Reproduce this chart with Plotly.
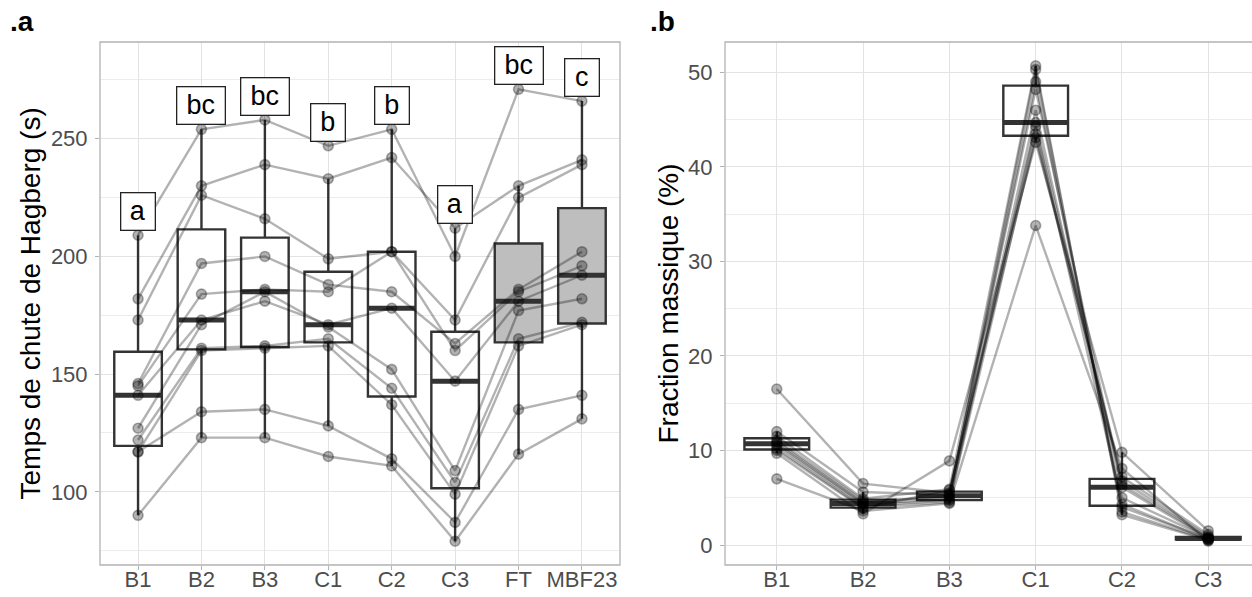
import numpy as np
import plotly.graph_objects as go

# ---------------- data : panel a (Hagberg falling number, s), 11 samples each ----------------
cats_a = ["B1", "B2", "B3", "C1", "C2", "C3", "FT", "MBF23"]
letters_a = ["a", "bc", "bc", "b", "b", "a", "bc", "c"]
hag_B1 = [209, 182, 173, 146, 145, 141, 127, 122, 117, 117, 90]
hag_B2 = [254, 230, 226, 197, 184, 173, 171, 161, 160, 134, 123]
hag_B3 = [258, 239, 216, 200, 186, 181, 185, 162, 161, 135, 123]
hag_C1 = [247, 233, 199, 188, 185, 171, 170, 165, 162, 128, 115]
hag_C2 = [254, 242, 202, 185, 202, 178, 152, 144, 137, 114, 111]
hag_C3 = [200, 212, 173, 163, 160, 147, 109, 104, 99, 87, 79]
hag_FT = [271, 230, 225, 186, 185, 181, 177, 165, 162, 135, 116]
hag_MBF23 = [266, 241, 239, 202, 196, 192, 182, 172, 171, 141, 131]
filled_a = ["FT", "MBF23"]

# ---------------- data : panel b (mass fraction, %) ----------------
cats_b = ["B1", "B2", "B3", "C1", "C2", "C3"]
frac_B1 = [16.5, 12.0, 11.5, 11.1, 10.9, 10.7, 10.5, 10.2, 10.0, 9.7, 7.0]
frac_B2 = [6.5, 5.6, 4.9, 4.7, 4.5, 4.4, 4.2, 4.0, 3.9, 3.3, 3.6]
frac_B3 = [5.5, 5.3, 5.9, 5.0, 5.2, 4.8, 4.7, 4.5, 5.8, 8.9, 4.4]
frac_C1 = [44.3, 48.2, 50.7, 50.3, 49.0, 46.0, 44.7, 43.5, 43.1, 42.6, 33.8]
frac_C2 = [4.3, 6.1, 3.2, 3.5, 4.0, 5.0, 6.4, 6.8, 7.2, 9.8, 8.1]
frac_C3 = [0.6, 0.7, 0.5, 0.55, 0.65, 0.75, 0.8, 0.9, 1.1, 1.5, 0.4]

cols_a = [hag_B1, hag_B2, hag_B3, hag_C1, hag_C2, hag_C3, hag_FT, hag_MBF23]
cols_b = [frac_B1, frac_B2, frac_B3, frac_C1, frac_C2, frac_C3]

# ---------------- style ----------------
W, H = 1252, 597
FONT = "Liberation Sans, Arial, sans-serif"
BOX_LINE = "#333333"
GRID = "#e3e3e3"
BORDER = "#b3b3b3"
TICKCOL = "#4d4d4d"
PT_FILL = "rgba(0,0,0,0.30)"
LINE_COL = "rgba(0,0,0,0.30)"
BOXW = 0.75
TICKSIZE = 22
TITLESIZE = 28

pa_l, pa_r = 100 / W, 620 / W
pb_l, pb_r = 725 / W, 1.0
p_top, p_bot = 1 - 42 / H, 1 - 565 / H

fig = go.Figure()


def add_panel(cols, cats, xa, ya, fills):
    # boxes
    for i, col in enumerate(cols):
        fig.add_trace(go.Box(
            x=[i] * len(col), y=col, xaxis=xa, yaxis=ya,
            width=BOXW, quartilemethod="inclusive", boxpoints="outliers",
            marker=dict(opacity=0, size=1),
            fillcolor=fills[i], line=dict(color=BOX_LINE, width=2.4),
            whiskerwidth=0, showlegend=False, hoverinfo="skip",
        ))
    # thick median bars
    for i, col in enumerate(cols):
        med = float(np.median(col))
        fig.add_trace(go.Scatter(
            x=[i - BOXW / 2, i + BOXW / 2], y=[med, med], xaxis=xa, yaxis=ya,
            mode="lines", line=dict(color=BOX_LINE, width=5),
            showlegend=False, hoverinfo="skip",
        ))
    # subject lines
    n = len(cols[0])
    xs = list(range(len(cols)))
    for j in range(n):
        fig.add_trace(go.Scatter(
            x=xs, y=[c[j] for c in cols], xaxis=xa, yaxis=ya,
            mode="lines", line=dict(color=LINE_COL, width=2.4),
            showlegend=False, hoverinfo="skip",
        ))
    # points
    for i, col in enumerate(cols):
        fig.add_trace(go.Scatter(
            x=[i] * len(col), y=col, xaxis=xa, yaxis=ya, mode="markers",
            marker=dict(size=10, color=PT_FILL, line=dict(color="rgba(0,0,0,0.30)", width=1.6)),
            showlegend=False, hoverinfo="skip",
        ))


fills_a = ["#bebebe" if c in filled_a else "white" for c in cats_a]
fills_b = ["white"] * len(cats_b)
add_panel(cols_a, cats_a, "x", "y", fills_a)
add_panel(cols_b, cats_b, "x2", "y2", fills_b)

# letter labels above each box (max + 10)
for i, (col, lab) in enumerate(zip(cols_a, letters_a)):
    fig.add_annotation(
        x=i, y=max(col) + 10, xref="x", yref="y", text=lab, showarrow=False,
        font=dict(family=FONT, size=27, color="black"),
        width=11 + 14 * len(lab), height=28,
        bgcolor="white", bordercolor="#222222", borderwidth=1.3, borderpad=4,
        xanchor="center", yanchor="middle", align="center", valign="middle",
    )

# ranges
lo_a = min(min(c) for c in cols_a)
hi_a = max(max(c) + 10 for c in cols_a)
pad_a = 0.05 * (hi_a - lo_a)
lo_b = min(min(c) for c in cols_b)
hi_b = max(max(c) for c in cols_b)
pad_b = 0.05 * (hi_b - lo_b)

axis_common = dict(
    showline=False, zeroline=False, ticks="outside", ticklen=4, tickwidth=1.2,
    tickcolor=BORDER, tickfont=dict(family=FONT, size=TICKSIZE, color=TICKCOL),
    showgrid=True, gridcolor=GRID, gridwidth=1.2, automargin=False,
)

fig.update_layout(
    width=W, height=H, margin=dict(l=0, r=0, t=0, b=0),
    paper_bgcolor="white", plot_bgcolor="white", boxmode="overlay",
    showlegend=False,
    xaxis=dict(domain=[pa_l, pa_r], range=[-0.6, len(cats_a) - 0.4],
               tickmode="array", tickvals=list(range(len(cats_a))), ticktext=cats_a,
               anchor="y", ticklabelstandoff=-9, **axis_common),
    yaxis=dict(domain=[p_bot, p_top], range=[lo_a - pad_a, hi_a + pad_a],
               tickmode="linear", tick0=0, dtick=50, anchor="x", ticklabelstandoff=3,
               minor=dict(dtick=25, tick0=0, showgrid=True, gridcolor="#ececec", gridwidth=0.9, ticks=""),
               **axis_common),
    xaxis2=dict(domain=[pb_l, pb_r], range=[-0.6, (W * (pb_r - pb_l)) / 86.3 - 0.6],
                tickmode="array", tickvals=list(range(len(cats_b))), ticktext=cats_b,
                anchor="y2", ticklabelstandoff=-9, **axis_common),
    yaxis2=dict(domain=[p_bot, p_top], range=[lo_b - pad_b, hi_b + pad_b],
                tickmode="linear", tick0=0, dtick=10, anchor="x2", ticklabelstandoff=3,
                minor=dict(dtick=5, tick0=0, showgrid=True, gridcolor="#ececec", gridwidth=0.9, ticks=""),
                **axis_common),
)

# panel borders
fig.add_shape(type="rect", xref="paper", yref="paper", x0=pa_l, x1=pa_r, y0=p_bot, y1=p_top,
              line=dict(color=BORDER, width=1.3), fillcolor="rgba(0,0,0,0)", layer="above")
fig.add_shape(type="rect", xref="paper", yref="paper", x0=pb_l, x1=1.05, y0=p_bot, y1=p_top,
              line=dict(color=BORDER, width=1.3), fillcolor="rgba(0,0,0,0)", layer="above")

# axis titles and panel tags
fig.add_annotation(x=30 / W, y=(p_bot + p_top) / 2, xref="paper", yref="paper",
                   text="Temps de chute de Hagberg (s)", textangle=-90, showarrow=False,
                   font=dict(family=FONT, size=TITLESIZE, color="black"), xanchor="center", yanchor="middle")
fig.add_annotation(x=668 / W, y=(p_bot + p_top) / 2, xref="paper", yref="paper",
                   text="Fraction massique (%)", textangle=-90, showarrow=False,
                   font=dict(family=FONT, size=TITLESIZE, color="black"), xanchor="center", yanchor="middle")
fig.add_annotation(x=8 / W, y=1 - 22 / H, xref="paper", yref="paper", text="<b>.a</b>",
                   showarrow=False, font=dict(family=FONT, size=28, color="black"),
                   xanchor="left", yanchor="middle")
fig.add_annotation(x=648 / W, y=1 - 22 / H, xref="paper", yref="paper", text="<b>.b</b>",
                   showarrow=False, font=dict(family=FONT, size=28, color="black"),
                   xanchor="left", yanchor="middle")

fig.write_html(
    "out.html",
    config={"displayModeBar": False},
    post_script="document.body.style.margin='0px';document.body.style.padding='0px';"
                "document.body.style.overflow='hidden';",
)
